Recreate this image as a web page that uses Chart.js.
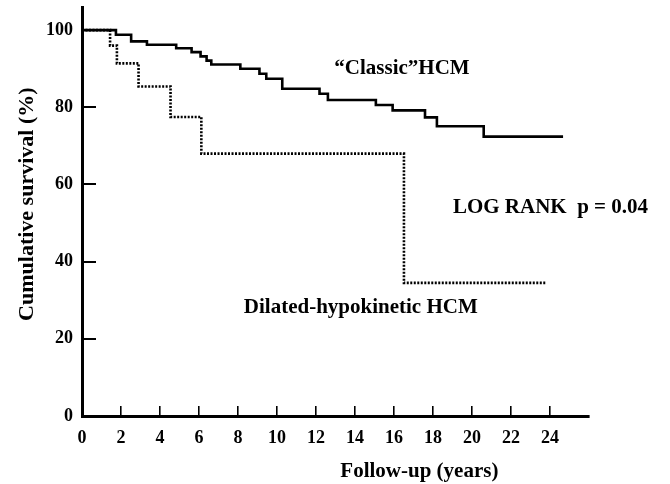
<!DOCTYPE html>
<html>
<head>
<meta charset="utf-8">
<script src="https://cdn.jsdelivr.net/npm/chart.js@4/dist/chart.umd.min.js"></script>
<style>
  html, body { margin: 0; padding: 0; background: #fff; }
  #wrap { width: 670px; height: 484px; }
</style>
</head>
<body>
<div id="wrap"><canvas id="km" width="670" height="484"></canvas></div>
<script>
// Kaplan-Meier survival
const classicYears = [0, 1.74, 2.52, 3.33, 4.83, 5.62, 6.08, 6.39, 6.63, 8.12, 9.1, 9.45, 10.27, 12.18, 12.61, 15.07, 15.93, 17.59, 18.2, 20.6, 24.67];
const classicSurv  = [100, 98.8, 97.1, 96.2, 95.3, 94.3, 93.2, 92.1, 91.1, 90.0, 88.7, 87.4, 84.8, 83.5, 81.9, 80.6, 79.2, 77.4, 75.1, 72.4, 72.4];

const dilatedYears = [0, 1.44, 1.79, 2.9, 4.54, 6.12, 16.51, 23.78];
const dilatedSurv  = [100, 96.0, 91.4, 85.4, 77.5, 68.0, 34.5, 34.5];

const xTicks = [0, 2, 4, 6, 8, 10, 12, 14, 16, 18, 20, 22, 24];
const yTicks = [0, 20, 40, 60, 80, 100];

const serif = '"Liberation Serif", "DejaVu Serif", serif';

const toPoints = (xs, ys) => xs.map((x, i) => ({ x: x, y: ys[i] }));

// text drawn inside the plot, placed in data units
const notes = [
    { text: '\u201CClassic\u201DHCM', x: 12.94, y: 88.7 },
    { text: 'LOG RANK  p = 0.04', x: 19.02, y: 52.5 },
    { text: 'Dilated-hypokinetic HCM', x: 8.3, y: 26.7 }
];

const textPlugin = {
    id: 'texts',
    afterDatasetsDraw(chart) {
        // short marks on the y axis, pointing right into the plot
        const ctx = chart.ctx;
        const ys = chart.scales.y;
        const left = chart.chartArea.left;
        ctx.save();
        ctx.fillStyle = '#000';
        yTicks.forEach(v => {
            if (v === 0) return;
            const py = Math.round(ys.getPixelForValue(v));
            ctx.fillRect(left, py - 1, 14, 2);
        });
        ctx.restore();
    },
    afterDraw(chart) {
        const ctx = chart.ctx;
        const xs = chart.scales.x, ys = chart.scales.y;
        const area = chart.chartArea;
        ctx.save();
        ctx.fillStyle = '#000';
        ctx.textBaseline = 'alphabetic';
        ctx.textAlign = 'left';
        ctx.font = 'bold 21px ' + serif;
        notes.forEach(n => {
            ctx.fillText(n.text, xs.getPixelForValue(n.x), ys.getPixelForValue(n.y));
        });

        // axis titles
        ctx.textAlign = 'center';
        ctx.font = 'bold 21px ' + serif;
        ctx.fillText('Follow-up (years)', xs.getPixelForValue(17.3), area.bottom + 61);

        ctx.font = 'bold 22px ' + serif;
        ctx.translate(33, ys.getPixelForValue(54.9));
        ctx.rotate(-Math.PI / 2);
        ctx.fillText('Cumulative survival (%)', 0, 0);
        ctx.restore();
    }
};

const ctx1 = document.getElementById('km').getContext('2d');
const kmChart = new Chart(ctx1, {
    type: 'line',
    data: {
        datasets: [
            {
                label: 'Classic HCM',
                data: toPoints(classicYears, classicSurv),
                borderColor: '#000',
                borderWidth: 2.6,
                pointRadius: 0,
                stepped: 'before',
                fill: false,
                clip: false
            },
            {
                label: 'Dilated-hypokinetic HCM',
                data: toPoints(dilatedYears, dilatedSurv),
                borderColor: '#000',
                borderWidth: 2.6,
                borderDash: [2, 1.5],
                pointRadius: 0,
                stepped: 'before',
                fill: false,
                clip: false
            }
        ]
    },
    options: {
        responsive: false,
        animation: false,
        layout: { padding: { top: 7, right: 81, left: 0, bottom: 0 } },
        plugins: {
            legend: { display: false },
            tooltip: { enabled: false }
        },
        scales: {
            x: {
                type: 'linear',
                min: 0,
                max: 26,
                // tick marks point up into the plot, no grid lines
                grid: {
                    display: true,
                    drawOnChartArea: false,
                    drawTicks: true,
                    tickLength: -10,
                    color: '#000',
                    lineWidth: 1.6
                },
                border: { display: true, color: '#000', width: 3 },
                afterBuildTicks: axis => { axis.ticks = xTicks.map(v => ({ value: v })); },
                afterFit: axis => {
                    axis.height = 68;
                    axis.paddingLeft = 0;
                    axis.paddingRight = 0;
                },
                ticks: {
                    color: '#000',
                    padding: 22,
                    maxRotation: 0,
                    autoSkip: false,
                    font: { family: serif, size: 18, weight: 'bold' }
                }
            },
            y: {
                type: 'linear',
                min: 0,
                max: 106,
                grid: { display: false, drawTicks: false },
                border: { display: true, color: '#000', width: 3 },
                afterBuildTicks: axis => { axis.ticks = yTicks.map(v => ({ value: v })); },
                afterFit: axis => {
                    axis.width = 82;
                    axis.paddingTop = 0;
                    axis.paddingBottom = 0;
                },
                ticks: {
                    color: '#000',
                    padding: 9,
                    autoSkip: false,
                    font: { family: serif, size: 18, weight: 'bold' }
                }
            }
        }
    },
    plugins: [textPlugin]
});
</script>
</body>
</html>
